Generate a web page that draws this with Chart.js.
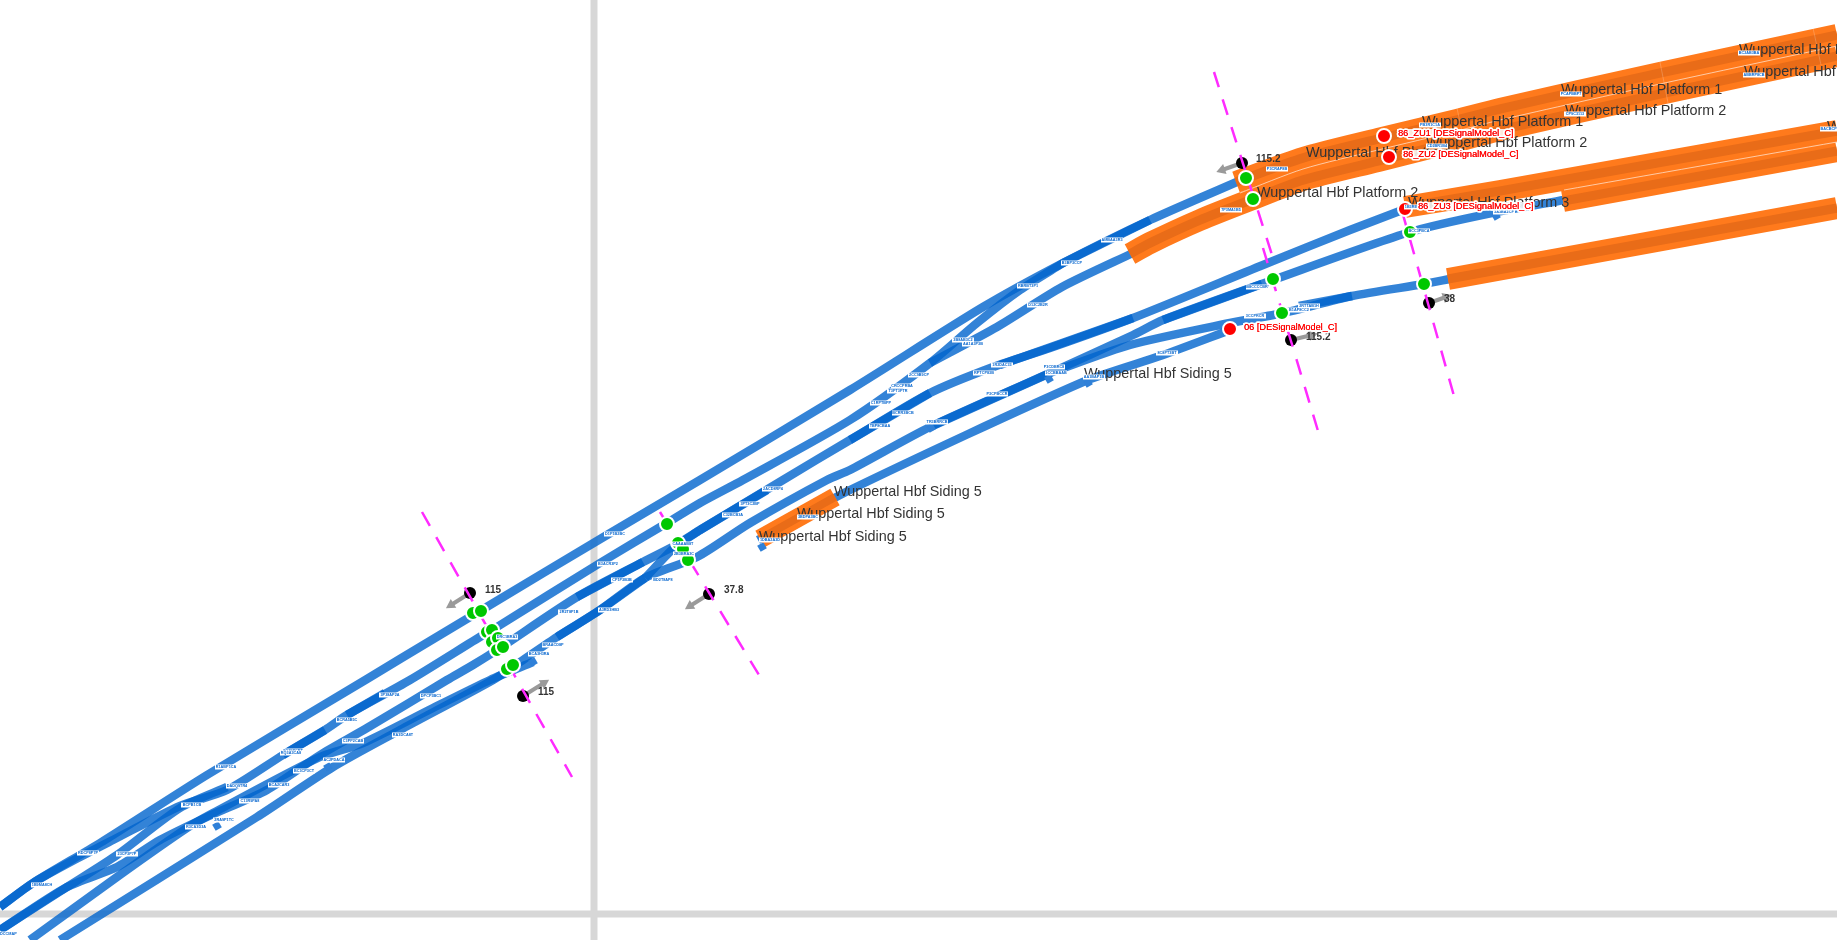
<!DOCTYPE html>
<html>
<head>
<meta charset="utf-8">
<title>Wuppertal Hbf track layout</title>
<script src="https://cdn.jsdelivr.net/npm/chart.js@4"></script>
<style>
html, body { margin: 0; padding: 0; background: #fff; overflow: hidden; }
canvas { display: block; }
</style>
</head>
<body>
<canvas id="map" width="1837" height="940"></canvas>
<script>
// grid lines
const gridLines = [
  [[594, 0], [594, 940]],
  [[0, 914], [1837, 914]]
];

// blue track runs
const blueTracks = [
  [[0,907],[33,883],[100,843],[207,775],[367,679],[400,659],[480,611],[607,535],[700,480],[850,390],[983,307],[1063,263],[1150,220],[1246,178]],
  [[0,907],[33,883],[80,857],[113,840],[180,806],[227,790],[283,755],[325,730],[347,715],[410,680],[483,635],[497,627],[600,563],[667,523],[700,503],[743,480],[850,420],[930,363],[977,323],[1020,290],[1063,263]],
  [[0,930],[67,887],[117,855],[180,808],[227,787]],
  [[0,930],[67,887],[117,867],[160,840],[207,817],[267,790],[320,755],[367,728],[447,680],[473,665],[497,650],[577,597],[643,562],[680,543],[700,530],[783,480],[850,440],[930,393],[993,367],[1050,348],[1133,318],[1263,265],[1350,230],[1405,209]],
  [[30,940],[117,877],[187,828],[213,813],[320,757],[363,743],[433,708],[490,680],[533,662]],
  [[60,940],[257,817],[333,767],[400,730],[493,680],[520,662],[557,637],[600,610],[645,578],[697,557],[750,523],[827,480],[850,470],[930,427],[1050,373],[1133,335],[1163,320],[1273,280],[1410,232],[1492,213],[1564,200]],
  [[645,578],[677,545],[700,530]],
  [[930,363],[997,327],[1062,287],[1135,252]],
  [[1050,373],[1130,345],[1230,323],[1283,313],[1352,296],[1424,284],[1450,279]],
  [[758,540],[850,490],[1083,382],[1163,355],[1230,330]]
];

// short stretches where two runs sit on top of each other
const overlapRuns = [
  [[557,637],[600,610],[645,578]],
  [[577,597],[643,562]],
  [[700,530],[767,490]],
  [[283,755],[325,730]],
  [[347,715],[385,693]],
  [[850,440],[930,393]],
  [[1000,365],[1133,318]],
  [[930,427],[1050,373]],
  [[1163,320],[1262,284]],
  [[1063,263],[1150,220]],
  [[1299,306],[1352,296]]
];

// platform and siding bands
const orangeBands = [
  [[1236,182],[1303,158],[1378,139],[1457,120],[1500,109],[1660,73],[1837,35]],
  [[1130,254],[1150,243],[1200,220],[1253,199],[1303,180],[1378,161],[1457,141],[1500,130],[1660,94],[1837,56]],
  [[1405,207],[1500,191],[1837,131]],
  [[1563,201],[1837,151]],
  [[1448,279],[1657,241],[1837,208]],
  [[760,539],[835,497]]
];

// thin seams between neighbouring bands
const bandSeams = [
  [[1240,193],[1303,169],[1378,150],[1457,131],[1500,120],[1660,84],[1837,46]],
  [[1564,190],[1837,142]]
];
const crossSeams = [
  [[1457,108],[1466,151]],
  [[1660,62],[1668,103]],
  [[1813,28],[1821,65]]
];

// dashed section cuts
const sectionCuts = [
  [[422,512],[572,777]],
  [[660,512],[759,675]],
  [[1214,72],[1272,255]],
  [[1263,248],[1318,431]],
  [[1402,211],[1454,396]]
];

// track section end spurs
const spurPoints = [[217,826],[328,767],[533,662],[931,428],[1049,379],[1088,383],[1496,216],[762,547]];

// signals
const greenSignals = [[473,613],[481,611],[487,632],[492,630],[492,642],[498,638],[497,650],[503,647],[507,669],[513,665],
  [667,524],[678,543],[683,549],[688,560],[1246,178],[1253,199],[1410,232],[1273,279],[1282,313],[1424,284]];
const redSignals = [[1384,136],[1389,157],[1405,209],[1230,329]];

// speed markers
const speedValues = ["115", "115", "37.8", "115.2", "115.2", "38"];
const speedPoints = [[470,593],[523,696],[709,594],[1242,163],[1291,340],[1429,303]];
const speedArrowTips = [[451,605],[544,683],[690,606],[1222,170],[1312,335],[1446,297]];
const speedTextPos = [[485,590],[538,692],[724,590],[1256,159],[1306,337],[1444,299]];

// platform names
const nameTexts = ["Wuppertal Hbf Siding 5","Wuppertal Hbf Siding 5","Wuppertal Hbf Siding 5","Wuppertal Hbf Siding 5",
  "Wuppertal Hbf Platform 2","Wuppertal Hbf Platform 1","Wuppertal Hbf Platform 1","Wuppertal Hbf Platform 2",
  "Wuppertal Hbf Platform 1","Wuppertal Hbf Platform 2","Wuppertal Hbf Platform 1","Wuppertal Hbf Platform 2",
  "Wuppertal Hbf Platform 3","Wuppertal Hbf Platform 3"];
const namePos = [[1084,374],[834,492],[797,514],[759,537],
  [1257,193],[1306,153],[1422,122],[1426,143],
  [1561,90],[1565,111],[1739,50],[1744,72],
  [1408,203],[1827,127]];

// signal names
const signalTexts = ["86_ZU1 [DESignalModel_C]","86_ZU2 [DESignalModel_C]","86_ZU3 [DESignalModel_C]","06 [DESignalModel_C]"];
const signalTextPos = [[1398,133],[1403,154],[1418,206],[1244,327]];

// tiny track ids
const tagTexts = ["1B9MA8CH","RDCP8P7P","23CP3P7P","CDCCMAP","R3CA3D3A","2RA9P1TC","C13R9PA8","BC3CP3CT","DADQ9TR4","R1ABP1CA","BCA2CAR3","8Q39PCRT","AC2PDACA","C3PP2CAB","BCPB1CB","RQ3A3CA8","BCRA5B5C","3P38AP2A","DPCP3BC1","RA3DCA8T",
  "D1P1B2BC","B3ACR3P2","CP1P3B3B","BD2T8AP8","2R2T8P1B","A3RD3HB3","BRAACD8P","BCA3H3RA","DRC1BRA3","CAAAAB8T","2B3BRA3C","C32BCB3A","3PT3C2BP","2ACD8RP4","3BDPA3BC","1DBA2A3D",
  "AMBAA3R3","B3BP3CCP","RBRBT3P1","D12C2B2R","3B8AB3C2","AA1A3P3B","1R2DAC33","RPTCP83B","2CC9B9CP","CRCCPRBA","T3PT3PTR","C1RPTBPP","BCRR3BCB","TBP8CBAA","TR3BRRCB","P3CPBCCR","P3CDBRC8","1CCBBAAB","AA1BAP1B","8C8PT3BT","3CCPRCR","B8CCCCBR","2RTTAB1H","B1AP8CC2","P3CRAP8B",
  "7P3MA1B5","PB3R1C1A","CD2BR1B4","PCAPBBP7","CP9C3113","BC2AB3BA","ABBRP8CB","1B3RBRAP","BCC3PBCA","3A3BA2CP","BACBCPB3"];
const tagPos = [[42,885],[88,853],[127,854],[7,934],[196,827],[224,820],[250,801],[304,771],[237,786],[226,767],[279,785],[293,751],[334,760],[353,741],[192,805],[291,753],[347,720],[390,695],[431,696],[403,735],
  [615,534],[608,564],[622,580],[663,580],[569,612],[609,610],[553,645],[539,654],[507,637],[683,544],[684,554],[733,515],[750,504],[773,489],[808,517],[770,540],
  [1112,240],[1072,263],[1028,286],[1038,305],[963,340],[973,344],[1002,365],[984,373],[919,375],[902,386],[898,391],[881,403],[903,413],[880,426],[937,422],[997,394],[1054,367],[1056,373],[1094,377],[1167,353],[1255,316],[1257,287],[1309,306],[1299,310],
  [1277,169],[1231,210],[1430,125],[1437,146],[1571,94],[1575,114],[1749,53],[1754,75],[1415,207],[1419,231],[1504,212],[1831,129]];

const blue = "rgba(0,100,205,0.8)";
const toXY = pts => pts.map(p => ({ x: p[0], y: p[1] }));

function run(pts, color, width, extra) {
  return Object.assign({
    type: "line", data: toXY(pts), borderColor: color, borderWidth: width,
    pointRadius: 0, tension: 0.25, fill: false, borderCapStyle: "butt", borderJoinStyle: "round"
  }, extra || {});
}
function dots(pts, color, radius, extra) {
  return Object.assign({
    type: "scatter", data: toXY(pts), backgroundColor: color, borderColor: "#fff",
    borderWidth: 2, pointRadius: radius
  }, extra || {});
}

// list is bottom to top, reversed below because chart.js paints the first one last
const layers = [];
gridLines.forEach(l => layers.push(run(l, "#d7d7d7", 7)));
blueTracks.forEach(l => layers.push(run(l, blue, 8.5)));
overlapRuns.forEach(l => layers.push(run(l, blue, 8.5)));
orangeBands.forEach((l, i) => {
  const w = i == 5 ? 19 : 22;
  layers.push(run(l, "#ff7a1c", w));
  layers.push(run(l, "#e96c18", w * 0.42));
});
bandSeams.forEach(l => layers.push(run(l, "rgba(255,255,255,0.6)", 1)));
crossSeams.forEach(l => layers.push(run(l, "rgba(255,255,255,0.2)", 1)));
layers.push(dots(spurPoints, "#2f80d8", 5, { pointStyle: "rect", rotation: -30, borderWidth: 0 }));
speedPoints.forEach((p, i) => {
  const tip = speedArrowTips[i];
  const angle = Math.atan2(tip[0] - p[0], p[1] - tip[1]) * 180 / Math.PI;
  layers.push(run([p, tip], "#9a9a9a", 4));
  layers.push(dots([tip], "#9a9a9a", 6, { pointStyle: "triangle", rotation: angle, borderWidth: 0 }));
});
layers.push(dots(speedPoints, "#000", 6, { borderWidth: 0, namesAfter: true }));
sectionCuts.forEach(l => layers.push(run(l, "#ff2bff", 2.5, { borderDash: [16, 13] })));
layers.push(dots(greenSignals, "#00c800", 7));
layers.push(dots(redSignals, "#ff0000", 7));

const textPlugin = {
  id: "mapText",
  afterDatasetDraw(chart, args) {
    if (!args.meta._dataset.namesAfter) return;
    const c = chart.ctx, sx = chart.scales.x, sy = chart.scales.y;
    c.save();
    c.textBaseline = "middle";
    c.font = "14.4px 'Liberation Sans'";
    c.fillStyle = "#333";
    nameTexts.forEach((t, i) => c.fillText(t, sx.getPixelForValue(namePos[i][0]), sy.getPixelForValue(namePos[i][1])));
    c.restore();
  },
  afterDatasetsDraw(chart) {
    const c = chart.ctx, sx = chart.scales.x, sy = chart.scales.y;
    c.save();
    c.textBaseline = "middle";

    c.font = "bold 10px 'Liberation Sans'";
    c.fillStyle = "#333";
    speedValues.forEach((t, i) => c.fillText(t, sx.getPixelForValue(speedTextPos[i][0]), sy.getPixelForValue(speedTextPos[i][1])));

    c.font = "bold 3.8px 'Liberation Sans'";
    c.textAlign = "center";
    tagTexts.forEach((t, i) => {
      const x = sx.getPixelForValue(tagPos[i][0]), y = sy.getPixelForValue(tagPos[i][1]);
      c.fillStyle = "#fff";
      c.fillRect(x - 11, y - 2.5, 22, 5);
      c.fillStyle = "#0a68cf";
      c.fillText(t, x, y + 0.3);
    });

    c.textAlign = "left";
    c.font = "9.2px 'Liberation Sans'";
    c.lineJoin = "round";
    c.lineWidth = 3.5;
    signalTexts.forEach((t, i) => {
      const x = sx.getPixelForValue(signalTextPos[i][0]), y = sy.getPixelForValue(signalTextPos[i][1]);
      const w = c.measureText(t).width;
      c.fillStyle = "rgba(255,255,255,0.85)";
      c.fillRect(x - 1, y - 4, w + 2, 8);
      c.strokeStyle = "#fff";
      c.strokeText(t, x, y);
      c.fillStyle = "#f00";
      c.fillText(t, x, y);
      c.fillText(t, x + 0.2, y);
    });
    c.restore();
  }
};

new Chart(document.getElementById("map"), {
  type: "scatter",
  data: { datasets: layers.slice().reverse() },
  options: {
    responsive: false,
    animation: false,
    devicePixelRatio: 1,
    layout: { padding: 0, autoPadding: false },
    plugins: { legend: { display: false }, tooltip: { enabled: false } },
    scales: {
      x: { type: "linear", min: 0, max: 1837, display: false },
      y: { type: "linear", min: 0, max: 940, reverse: true, display: false }
    }
  },
  plugins: [textPlugin]
});
</script>
</body>
</html>
